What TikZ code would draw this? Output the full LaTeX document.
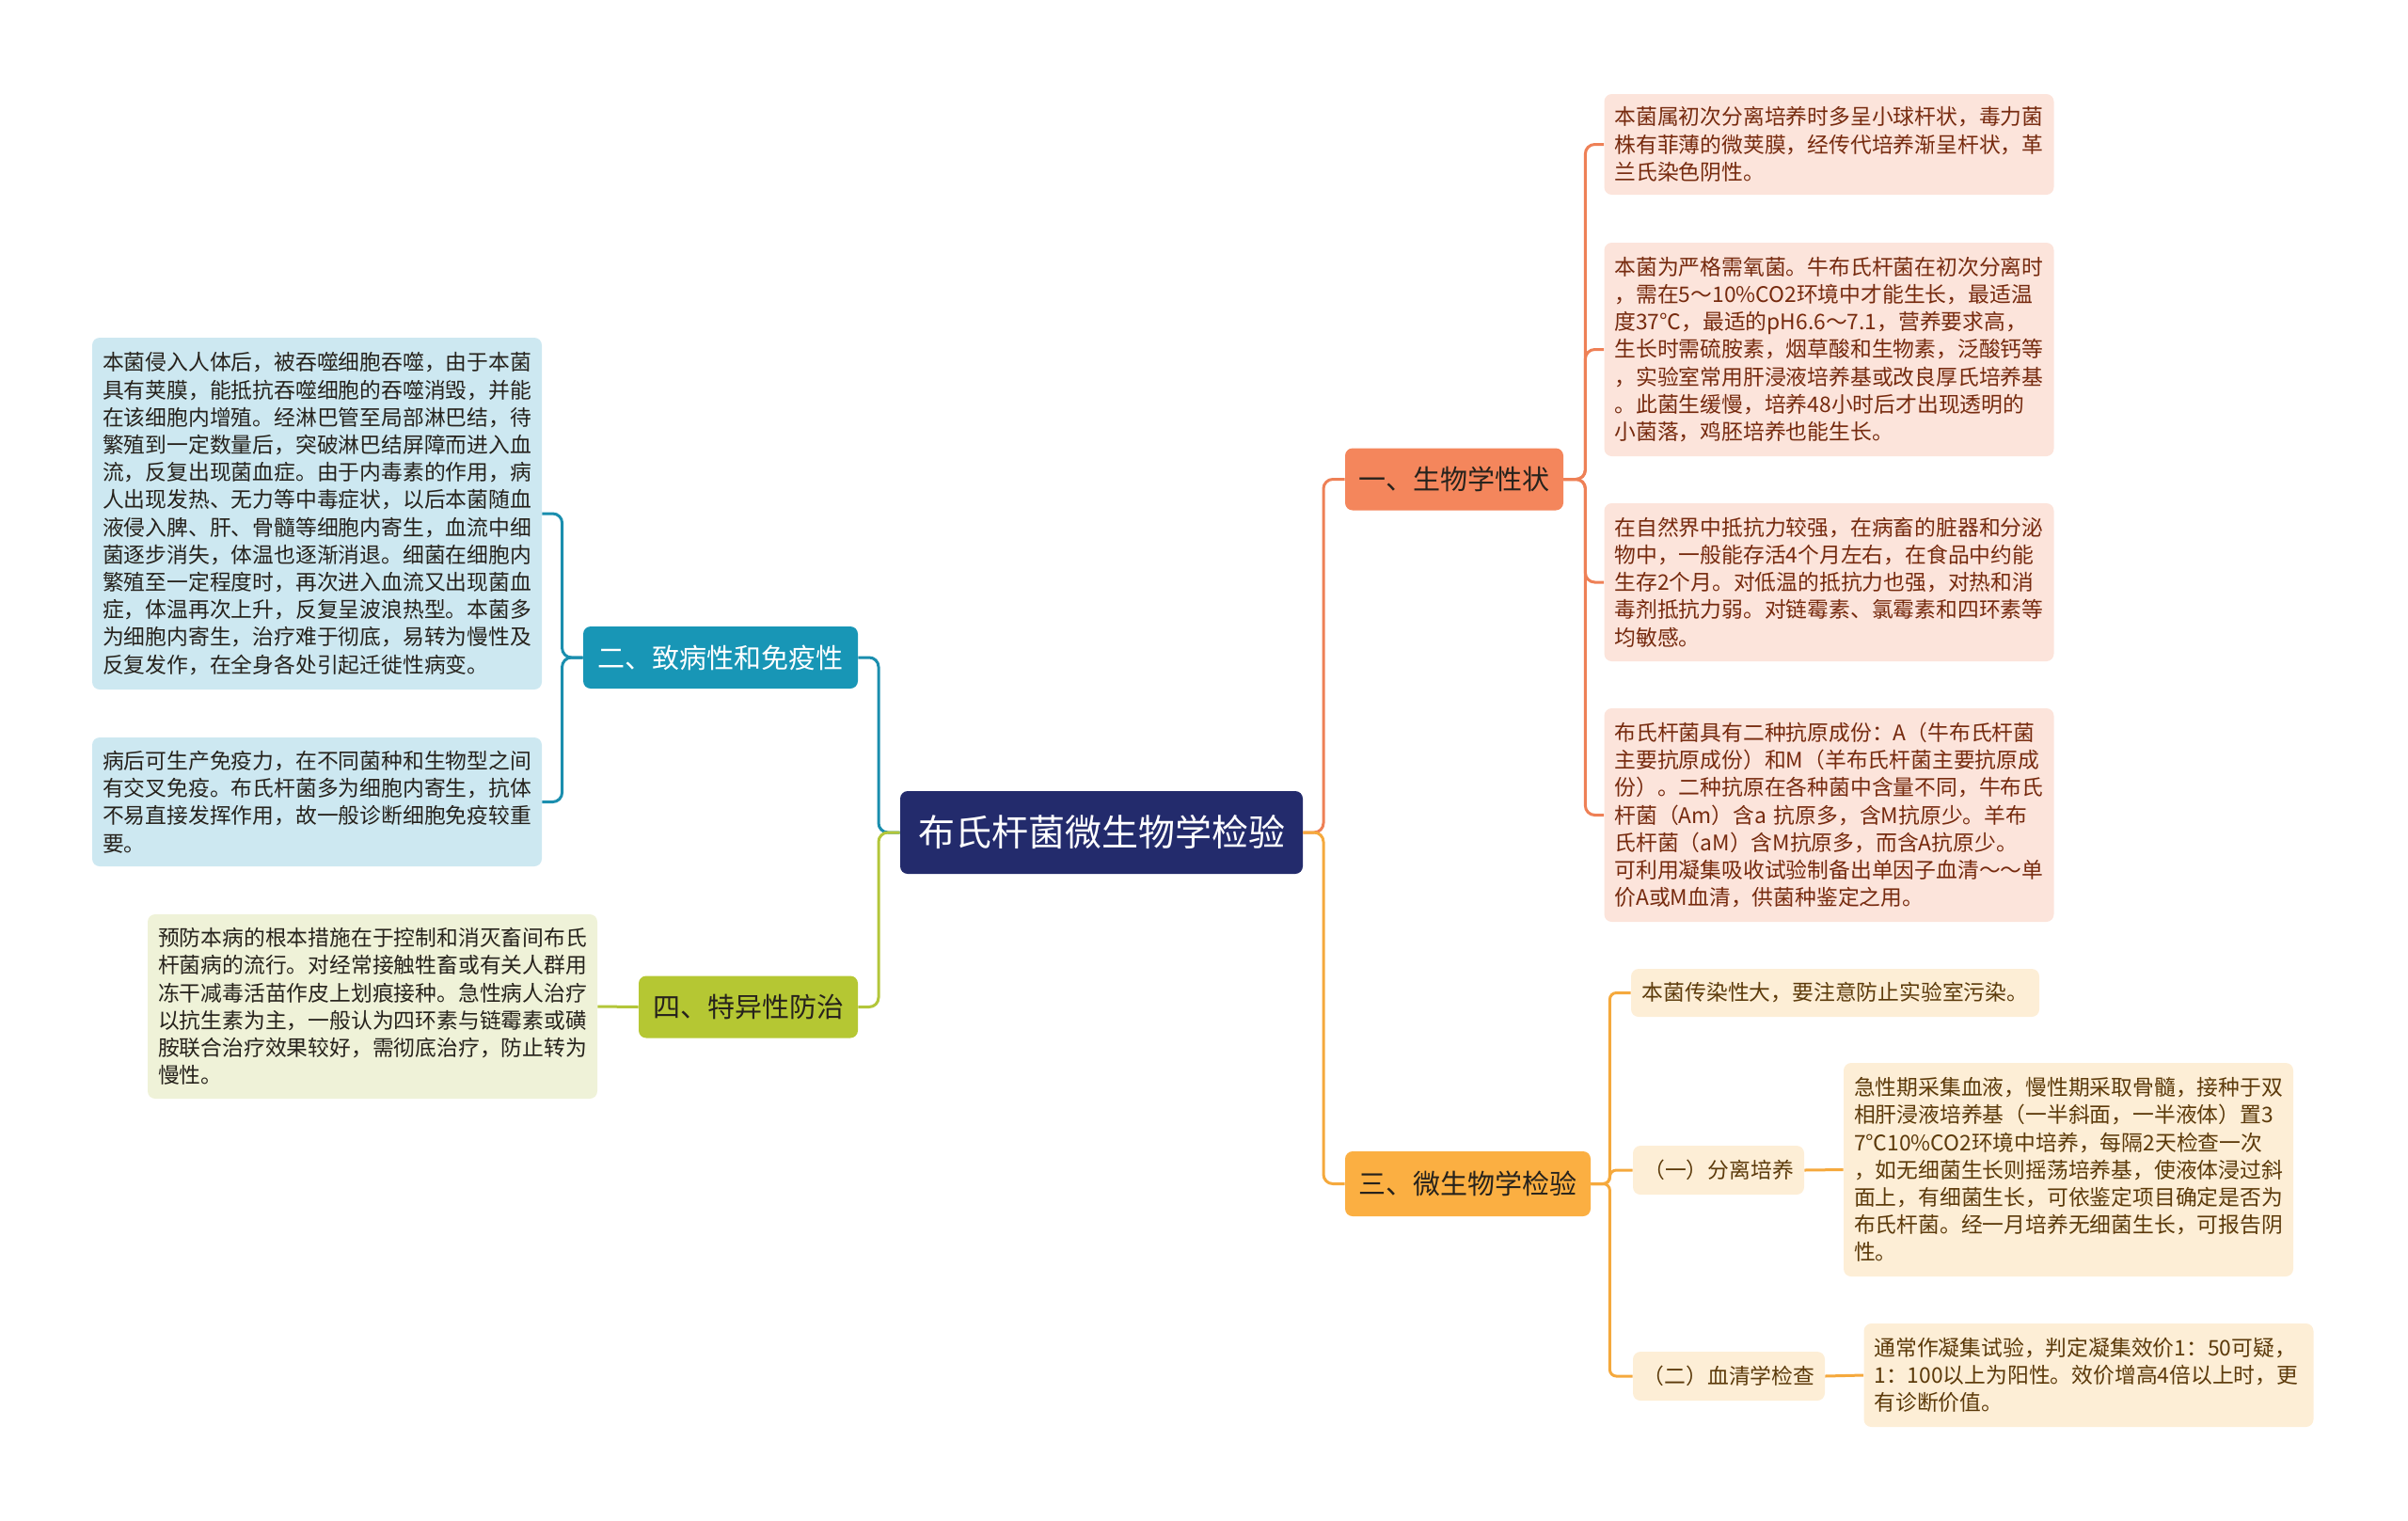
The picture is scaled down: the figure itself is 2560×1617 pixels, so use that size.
\documentclass[tikz,border=0pt]{standalone}
\usepackage{fontspec}
\setmainfont{Noto Sans CJK SC}
\usetikzlibrary{positioning, calc}

\definecolor{rootfill}{RGB}{35,43,108}
\definecolor{redtopic}{RGB}{244,134,92}
\definecolor{redleaf}{RGB}{252,228,219}
\definecolor{redline}{RGB}{238,128,86}
\definecolor{redtext}{RGB}{118,42,14}
\definecolor{bluetopic}{RGB}{24,150,182}
\definecolor{blueleaf}{RGB}{205,232,241}
\definecolor{blueline}{RGB}{26,142,174}
\definecolor{greentopic}{RGB}{181,199,51}
\definecolor{greenleaf}{RGB}{239,242,216}
\definecolor{greenline}{RGB}{179,198,58}
\definecolor{orangetopic}{RGB}{251,175,66}
\definecolor{orangeleaf}{RGB}{253,238,214}
\definecolor{orangeline}{RGB}{245,169,61}
\definecolor{orangetext}{RGB}{92,58,10}
\definecolor{darktext}{RGB}{38,34,28}

\begin{document}
\begin{tikzpicture}[
  x=0.5pt, y=-0.5pt,
  root/.style = {fill=rootfill, text=white, rounded corners=4pt, inner sep=0pt,
    minimum width=214pt, minimum height=44pt, font=\fontsize{19.5}{23}\selectfont},
  topic/.style = {rounded corners=4pt, inner sep=0pt, minimum height=33pt,
    font=\fontsize{14.5}{17}\selectfont},
  sub/.style = {fill=orangeleaf, text=orangetext, rounded corners=4pt, inner sep=0pt,
    minimum height=26pt, font=\fontsize{11.4}{14.6}\selectfont},
  leaf/.style = {rounded corners=4pt, align=left, text width=228pt,
    inner xsep=5.5pt, inner ysep=0pt, minimum height=#1,
    font=\fontsize{11.4}{14.6}\selectfont},
  redleaf/.style = {leaf=#1, fill=redleaf, text=redtext},
  blueleaf/.style = {leaf=#1, fill=blueleaf, text=darktext},
  greenleaf/.style = {leaf=#1, fill=greenleaf, text=darktext},
  orangeleaf/.style = {leaf=#1, fill=orangeleaf, text=orangetext},
  link/.style = {line width=1.5pt, rounded corners=5pt}
]
\useasboundingbox (0,0) rectangle (2560,1617);

% Root
\node[root] (root) at (1171,885) {布氏杆菌微生物学检验};

% Main topics
\node[topic, fill=redtopic, text=darktext, minimum width=116pt] (bio) at (1546,509.5) {一、生物学性状};
\node[topic, fill=bluetopic, text=white, minimum width=146pt] (path) at (766,699) {二、致病性和免疫性};
\node[topic, fill=orangetopic, text=darktext, minimum width=130.5pt, minimum height=34.5pt] (lab) at (1560.5,1258.5) {三、微生物学检验};
\node[topic, fill=greentopic, text=darktext, minimum width=116.5pt] (prev) at (795.5,1070.5) {四、特异性防治};

% 一 leaves
\node[redleaf=53.5pt] (bioa) at (1944.5,153.5) {本菌属初次分离培养时多呈小球杆状，毒力菌\\株有菲薄的微荚膜，经传代培养渐呈杆状，革\\兰氏染色阴性。};
\node[redleaf=113.5pt] (biob) at (1944.5,371.5) {本菌为严格需氧菌。牛布氏杆菌在初次分离时\\，需在5～10\%CO2环境中才能生长，最适温\\度37℃，最适的pH6.6～7.1，营养要求高，\\生长时需硫胺素，烟草酸和生物素，泛酸钙等\\，实验室常用肝浸液培养基或改良厚氏培养基\\。此菌生缓慢，培养48小时后才出现透明的\\小菌落，鸡胚培养也能生长。};
\node[redleaf=84pt] (bioc) at (1944.5,619) {在自然界中抵抗力较强，在病畜的脏器和分泌\\物中，一般能存活4个月左右，在食品中约能\\生存2个月。对低温的抵抗力也强，对热和消\\毒剂抵抗力弱。对链霉素、氯霉素和四环素等\\均敏感。};
\node[redleaf=113.5pt] (biod) at (1944.5,866.5) {布氏杆菌具有二种抗原成份：A（牛布氏杆菌\\主要抗原成份）和M（羊布氏杆菌主要抗原成\\份）。二种抗原在各种菌中含量不同，牛布氏\\杆菌（Am）含a 抗原多，含M抗原少。羊布\\氏杆菌（aM）含M抗原多，而含A抗原少。\\可利用凝集吸收试验制备出单因子血清～～单\\价A或M血清，供菌种鉴定之用。};

% 二 leaves
\node[blueleaf=187pt] (patha) at (337,546) {本菌侵入人体后，被吞噬细胞吞噬，由于本菌\\具有荚膜，能抵抗吞噬细胞的吞噬消毁，并能\\在该细胞内增殖。经淋巴管至局部淋巴结，待\\繁殖到一定数量后，突破淋巴结屏障而进入血\\流，反复出现菌血症。由于内毒素的作用，病\\人出现发热、无力等中毒症状，以后本菌随血\\液侵入脾、肝、骨髓等细胞内寄生，血流中细\\菌逐步消失，体温也逐渐消退。细菌在细胞内\\繁殖至一定程度时，再次进入血流又出现菌血\\症，体温再次上升，反复呈波浪热型。本菌多\\为细胞内寄生，治疗难于彻底，易转为慢性及\\反复发作，在全身各处引起迁徙性病变。};
\node[blueleaf=68.5pt] (pathb) at (337,852.5) {病后可生产免疫力，在不同菌种和生物型之间\\有交叉免疫。布氏杆菌多为细胞内寄生，抗体\\不易直接发挥作用，故一般诊断细胞免疫较重\\要。};

% 三 leaves
\node[sub, minimum width=217pt, minimum height=25.5pt] (laba) at (1951,1055.5) {本菌传染性大，要注意防止实验室污染。};
\node[sub, minimum width=91pt] (labb) at (1827,1244) {（一）分离培养};
\node[orangeleaf=113.5pt] (labbt) at (2199,1243.5) {急性期采集血液，慢性期采取骨髓，接种于双\\相肝浸液培养基（一半斜面，一半液体）置3\\7℃10\%CO2环境中培养，每隔2天检查一次\\，如无细菌生长则摇荡培养基，使液体浸过斜\\面上，有细菌生长，可依鉴定项目确定是否为\\布氏杆菌。经一月培养无细菌生长，可报告阴\\性。};
\node[sub, minimum width=102pt] (labc) at (1838,1463) {（二）血清学检查};
\node[orangeleaf=55pt] (labct) at (2220.5,1462) {通常作凝集试验，判定凝集效价1：50可疑，\\1：100以上为阳性。效价增高4倍以上时，更\\有诊断价值。};

% 四 leaf
\node[greenleaf=98pt] (preva) at (396,1070) {预防本病的根本措施在于控制和消灭畜间布氏\\杆菌病的流行。对经常接触牲畜或有关人群用\\冻干减毒活苗作皮上划痕接种。急性病人治疗\\以抗生素为主，一般认为四环素与链霉素或磺\\胺联合治疗效果较好，需彻底治疗，防止转为\\慢性。};

% Branches from the root
\coordinate (lj) at (934,885);
\coordinate (rj) at (1407,885);
\draw[link, blueline] (root.west) -- (lj) |- (path.east);
\draw[link, greenline] (root.west) -- (lj) |- (prev.east);
\draw[link, redline] (root.east) -- (rj) |- (bio.west);
\draw[link, orangeline] (root.east) -- (rj) |- (lab.west);

% Leaf connectors
\foreach \n in {bioa,biob,bioc,biod}
  \draw[link, redline] (bio.east) -- ++(23,0) |- (\n.west);
\foreach \n in {patha,pathb}
  \draw[link, blueline] (path.west) -- ++(-22,0) |- (\n.east);
\foreach \n in {laba,labb,labc}
  \draw[link, orangeline, rounded corners=3.5pt] (lab.east) -- ++(20,0) |- (\n.west);
\draw[link, orangeline] (labb.east) -- (labbt.west);
\draw[link, orangeline] (labc.east) -- (labct.west);
\draw[link, greenline] (prev.west) -- (preva.east);

\end{tikzpicture}
\end{document}
